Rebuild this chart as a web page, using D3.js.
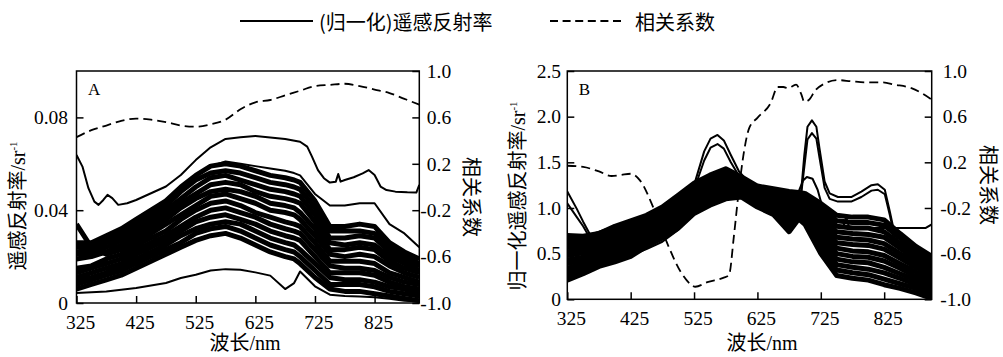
<!DOCTYPE html>
<html>
<head>
<meta charset="utf-8">
<script src="https://cdn.jsdelivr.net/npm/d3@7"></script>
<style>
  body { margin: 0; background: #fff; }
  svg { display: block; }
  .serif { font-family: "Liberation Serif", "Noto Sans CJK SC", serif; }
  .sans { font-family: "Noto Sans CJK SC", "Noto Sans", sans-serif; }
</style>
</head>
<body>
<svg id="chart" width="1003" height="357"></svg>
<script>
// wavelengths (nm) used by the band spectra
const W = [325,350,375,400,425,450,475,500,525,550,575,600,625,650,675,690,700,725,750,775,800,825,850,875,900];
const xTicks = [325,425,525,625,725,825];
const corrTicks = [-1.0,-0.6,-0.2,0.2,0.6,1.0];

// ---- panel A: remote sensing reflectance, values in 10^-3 sr^-1 ----
const bandA = [
  [6,8,10,12,15,18,21,24,27,29,30,28,25,22,20,19,17,11,6,5,5,4,3,2,1],
  [8,10,12,14,17,20,23,26,30,32,33,31,28,25,23,22,20,14,8,8,8,7,5,4,3],
  [10,11,13,16,19,22,25,29,32,34,35,34,31,28,26,25,23,17,11,10,10,9,7,6,4],
  [11,13,15,17,21,24,27,31,35,37,38,36,34,31,29,28,27,20,13,13,13,12,9,7,6],
  [13,15,17,19,23,26,29,33,37,40,41,39,37,34,32,31,30,23,16,15,15,14,11,9,8],
  [15,16,19,21,25,28,31,36,40,43,44,42,39,37,35,34,33,26,18,18,18,17,13,11,9],
  [34,24,21,23,27,30,34,38,42,46,47,45,43,40,39,38,36,29,21,20,21,20,16,13,11],
  [19,20,22,25,28,32,36,41,45,48,49,48,46,43,42,41,39,32,23,23,24,23,18,15,13],
  [21,21,24,27,30,34,38,43,47,51,52,51,48,46,45,44,43,35,26,25,26,25,20,17,14],
  [22,23,26,28,32,36,40,45,50,54,55,53,51,49,48,47,46,38,28,28,29,28,22,18,16],
  [24,24,27,30,34,38,42,48,53,56,57,56,54,52,51,50,49,41,31,31,31,30,24,20,17],
  [26,26,29,32,36,40,44,50,55,59,60,59,57,55,54,53,52,44,33,33,34,33,26,22,19]
];
const highA_W = [325,335,345,355,362,370,377,385,395,410,425,450,475,500,525,550,575,600,625,650,675,700,712,720,730,740,750,760,764,768,775,790,805,815,825,835,845,860,880,895,900];
const highA = [63.8,58.8,49.5,43.7,42.3,44.4,46.6,45.2,42.3,43.0,44.4,47.3,50.2,55.2,61.6,67.1,70.7,71.4,72.0,71.3,70.7,69.5,67.4,63.1,57.3,53.8,51.9,52.3,55.6,52.3,53.0,54.2,55.9,57.3,55.2,50.2,48.7,48.0,47.7,47.6,50.9];
const secondA = [25,25,28,31,35,39,43,49,55,59,61,60,59,58,57,56,55,47,42,42,43,43,34,30,24];
const lowA = [4.3,4.6,5.0,5.7,6.5,7.5,8.6,10.8,12.2,14.0,14.6,14.3,13.2,11.8,6.0,8.6,13.6,7.2,3.6,3.0,2.8,2.5,1.8,1.0,0.6];
const corrA_W = [325,350,375,400,425,450,475,500,525,550,575,600,625,650,675,700,725,750,775,800,825,850,875,900];
const corrA = [0.43,0.49,0.53,0.57,0.59,0.58,0.56,0.53,0.52,0.54,0.58,0.67,0.73,0.75,0.79,0.83,0.87,0.88,0.89,0.87,0.84,0.81,0.76,0.71];

// ---- panel B: normalised reflectance, sr^-1 ----
const bandB = [
  [.21,.28,.36,.41,.47,.58,.67,.78,.94,1.03,1.10,1.12,1.01,.93,.74,.88,.82,.50,.26,.23,.21,.16,.12,.07,.01],
  [.25,.32,.39,.45,.51,.61,.70,.81,.97,1.06,1.13,1.14,1.03,.96,.78,.91,.85,.55,.32,.29,.27,.22,.17,.12,.05],
  [.30,.35,.42,.48,.54,.64,.73,.84,1.00,1.09,1.16,1.16,1.05,.98,.82,.93,.88,.60,.38,.35,.33,.29,.23,.16,.09],
  [.34,.39,.46,.52,.58,.67,.76,.88,1.03,1.12,1.19,1.18,1.07,1.01,.86,.96,.91,.65,.44,.41,.40,.35,.28,.21,.13],
  [.39,.43,.49,.55,.61,.70,.79,.91,1.06,1.15,1.22,1.20,1.09,1.03,.90,.98,.94,.70,.50,.47,.46,.42,.34,.25,.18],
  [.43,.46,.52,.59,.65,.73,.82,.94,1.09,1.18,1.25,1.22,1.11,1.06,.94,1.01,.97,.75,.56,.53,.52,.48,.39,.30,.22],
  [.48,.51,.56,.62,.68,.77,.86,.98,1.12,1.21,1.28,1.24,1.14,1.08,.98,1.04,1.01,.80,.62,.60,.59,.55,.45,.35,.26],
  [.52,.54,.59,.66,.72,.80,.89,1.01,1.15,1.24,1.31,1.26,1.16,1.11,1.02,1.07,1.04,.85,.68,.66,.65,.61,.50,.40,.30],
  [.57,.58,.62,.69,.75,.83,.92,1.04,1.18,1.27,1.34,1.28,1.18,1.13,1.06,1.09,1.07,.90,.74,.72,.71,.68,.56,.44,.35],
  [.61,.62,.66,.73,.79,.86,.95,1.08,1.21,1.30,1.37,1.30,1.20,1.16,1.10,1.12,1.10,.95,.80,.78,.78,.74,.61,.49,.39],
  [.66,.65,.69,.76,.82,.89,.98,1.11,1.24,1.33,1.40,1.32,1.22,1.18,1.14,1.14,1.13,1.00,.86,.84,.84,.81,.67,.53,.43],
  [.70,.69,.72,.80,.86,.92,1.01,1.14,1.27,1.36,1.43,1.34,1.24,1.21,1.18,1.17,1.16,1.05,.92,.90,.90,.87,.72,.58,.47]
];
const peakB_W = [325,340,350,360,375,400,425,450,475,500,515,525,541,551,562,572,583,596,609,625,650,675,694,699,704,711,718,723,731,739,752,773,789,805,815,826,834,842,863,900];
const peakB1 = [1.18,0.99,0.85,0.72,0.62,0.52,0.52,0.58,0.66,0.80,1.05,1.25,1.62,1.76,1.80,1.74,1.58,1.40,1.30,1.23,1.20,1.18,1.18,1.58,1.89,1.96,1.89,1.65,1.29,1.16,1.12,1.12,1.18,1.25,1.26,1.20,0.96,0.70,0.60,0.45];
const peakB2 = [1.05,0.90,0.80,0.68,0.58,0.49,0.48,0.55,0.63,0.76,1.00,1.20,1.52,1.66,1.70,1.65,1.50,1.35,1.27,1.20,1.17,1.15,1.15,1.45,1.75,1.82,1.76,1.55,1.22,1.10,1.07,1.07,1.12,1.19,1.20,1.15,0.92,0.66,0.55,0.42];
const flatB_W = [325,350,375,400,425,450,475,500,525,550,575,600,625,650,675,690,697,703,712,720,730,745,760,765,770,800,850,890,900];
const flatB = [0.70,0.68,0.74,0.80,0.85,0.90,0.98,1.10,1.22,1.30,1.36,1.28,1.22,1.20,1.18,1.18,1.30,1.34,1.32,1.20,0.95,0.80,0.78,0.90,0.78,0.78,0.78,0.78,0.82];
const corrB_W = [325,350,375,395,410,425,440,461,482,504,520,527,546,572,580,588,596,604,612,625,646,657,666,673,686,694,699,707,715,731,752,773,800,821,842,868,900];
const corrB = [0.17,0.16,0.12,0.08,0.09,0.10,0.04,-0.20,-0.50,-0.76,-0.87,-0.89,-0.85,-0.81,-0.79,-0.44,-0.03,0.30,0.50,0.59,0.72,0.86,0.86,0.85,0.88,0.80,0.73,0.75,0.82,0.89,0.92,0.91,0.90,0.90,0.88,0.85,0.75];

const svg = d3.select("#chart");

// legend
const legend = svg.append("g");
legend.append("line").attr("x1", 240).attr("x2", 313).attr("y1", 21).attr("y2", 21)
  .attr("stroke", "#000").attr("stroke-width", 2);
legend.append("text").attr("class", "sans").attr("x", 319).attr("y", 29.5).attr("font-size", 20)
  .text("(归一化)遥感反射率");
legend.append("line").attr("x1", 550).attr("x2", 621).attr("y1", 21).attr("y2", 21)
  .attr("stroke", "#000").attr("stroke-width", 2).attr("stroke-dasharray", "8,4.6");
legend.append("text").attr("class", "sans").attr("x", 635).attr("y", 29.5).attr("font-size", 20)
  .text("相关系数");

function drawPanel(p) {
  const x = d3.scaleLinear().domain([325, 900]).range([p.x0, p.x1]);
  const y = d3.scaleLinear().domain(p.yDomain).range([p.y1, p.y0]);
  const yr = d3.scaleLinear().domain([-1, 1]).range([p.y1, p.y0]);
  const g = svg.append("g");

  g.append("clipPath").attr("id", "clip" + p.letter).append("rect")
    .attr("x", p.x0).attr("y", p.y0).attr("width", p.x1 - p.x0).attr("height", p.y1 - p.y0);
  const plot = g.append("g").attr("clip-path", "url(#clip" + p.letter + ")");

  const line = ws => d3.line().x((d, i) => x(ws[i])).y(d => y(d * p.unit));

  // dense band of spectra
  plot.selectAll("path.band").data(p.band).join("path")
    .attr("class", "band")
    .attr("d", line(W))
    .attr("fill", "none").attr("stroke", "#000").attr("stroke-width", 5)
    .attr("stroke-linejoin", "round");

  // individual spectra outside the band
  p.curves.forEach(c => {
    plot.append("path").datum(c.v).attr("d", line(c.w))
      .attr("fill", "none").attr("stroke", "#000").attr("stroke-width", 2)
      .attr("stroke-linejoin", "round");
  });

  // correlation coefficient (right axis)
  plot.append("path").datum(p.corr)
    .attr("d", d3.line().x((d, i) => x(p.corrW[i])).y(d => yr(d)).curve(d3.curveMonotoneX))
    .attr("fill", "none").attr("stroke", "#000").attr("stroke-width", 1.8)
    .attr("stroke-dasharray", "9,5");

  // frame
  g.append("rect").attr("x", p.x0).attr("y", p.y0)
    .attr("width", p.x1 - p.x0).attr("height", p.y1 - p.y0)
    .attr("fill", "none").attr("stroke", "#000").attr("stroke-width", 1.5);

  const styleAxis = sel => {
    sel.attr("font-family", null).attr("font-size", null);
    sel.select(".domain").remove();
    sel.selectAll(".tick line").attr("stroke", "#000").attr("stroke-width", 1.5);
    sel.selectAll(".tick text").attr("class", "serif").attr("font-size", 19.5).attr("fill", "#000");
  };

  g.append("g").attr("transform", `translate(0,${p.y1})`)
    .call(d3.axisBottom(x).tickValues(xTicks).tickSize(-7).tickSizeOuter(0).tickPadding(12).tickFormat(d3.format("d")))
    .call(styleAxis)
    .call(s => s.selectAll(".tick text").attr("dx", 3.5));

  g.append("g").attr("transform", `translate(${p.x0},0)`)
    .call(d3.axisLeft(y).tickValues(p.yTicks).tickSize(-7).tickSizeOuter(0).tickPadding(p.leftPad).tickFormat(p.yFmt))
    .call(styleAxis);

  g.append("g").attr("transform", `translate(${p.x1},0)`)
    .call(d3.axisRight(yr).tickValues(corrTicks).tickSize(-7).tickSizeOuter(0).tickPadding(p.rightPad).tickFormat(d => d.toFixed(1)))
    .call(styleAxis)
    .call(s => s.selectAll(".tick text").attr("dx", d => d < 0 ? p.negShift : 0));

  // panel letter
  g.append("text").attr("class", "serif").attr("x", p.x0 + 11.5).attr("y", p.y0 + 23.5)
    .attr("font-size", 17).text(p.letter);

  // axis titles
  g.append("text").attr("class", "serif").attr("x", p.xLabel[0]).attr("y", p.xLabel[1])
    .attr("text-anchor", "middle").attr("font-size", 20).text("波长/nm");

  const yl = g.append("text").attr("class", "serif")
    .attr("transform", `translate(${p.yLabel[0]},${p.yLabel[1]}) rotate(-90)`)
    .attr("text-anchor", "middle").attr("dy", "0.35em").attr("font-size", 20);
  yl.append("tspan").text(p.yTitle + "/sr");
  yl.append("tspan").attr("dy", -8).attr("font-size", 11).text("-1");

  g.append("text").attr("class", "serif")
    .attr("transform", `translate(${p.rLabel[0]},${p.rLabel[1]}) rotate(90)`)
    .attr("text-anchor", "middle").attr("dy", "0.35em").attr("font-size", 20).text("相关系数");
}

drawPanel({
  letter: "A", x0: 76.5, x1: 419.3, y0: 71, y1: 303,
  yDomain: [0, 0.1], unit: 1e-3, yTicks: [0, 0.04, 0.08],
  yFmt: d => d === 0 ? "0" : d.toFixed(2), leftPad: 8.5, rightPad: 7.5, negShift: -6.5,
  band: bandA,
  curves: [{ w: highA_W, v: highA }, { w: W, v: secondA }, { w: W, v: lowA }],
  corrW: corrA_W, corr: corrA,
  yTitle: "遥感反射率", xLabel: [245, 350], yLabel: [18, 206], rLabel: [471, 197]
});

drawPanel({
  letter: "B", x0: 567.3, x1: 931.7, y0: 71, y1: 299.3,
  yDomain: [0, 2.5], unit: 1, yTicks: [0, 0.5, 1.0, 1.5, 2.0, 2.5],
  yFmt: d => d === 0 ? "0" : d.toFixed(1), leftPad: 6.3, rightPad: 11, negShift: -2.5,
  band: bandB,
  curves: [{ w: peakB_W, v: peakB1 }, { w: peakB_W, v: peakB2 }, { w: flatB_W, v: flatB }],
  corrW: corrB_W, corr: corrB,
  yTitle: "归一化遥感反射率", xLabel: [762, 350], yLabel: [518, 196], rLabel: [988, 185]
});
</script>
</body>
</html>
